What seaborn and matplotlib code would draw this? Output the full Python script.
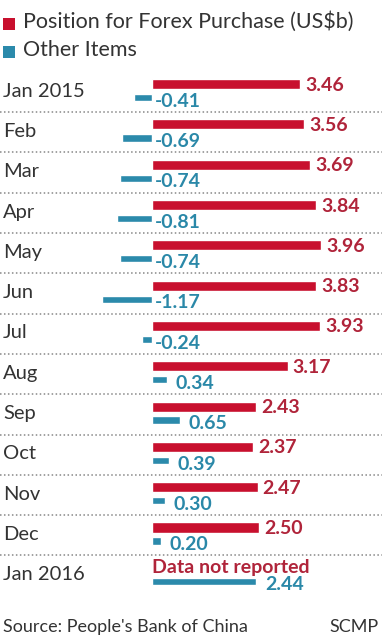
import numpy as np
import pandas as pd
import matplotlib
matplotlib.use("Agg")
import matplotlib.pyplot as plt
import seaborn as sns
from matplotlib.patches import Rectangle

months = ["Jan 2015", "Feb", "Mar", "Apr", "May", "Jun", "Jul", "Aug",
          "Sep", "Oct", "Nov", "Dec", "Jan 2016"]
forex = [3.46, 3.56, 3.69, 3.84, 3.96, 3.83, 3.93, 3.17, 2.43, 2.37, 2.47, 2.50, np.nan]
other = [-0.41, -0.69, -0.74, -0.81, -0.74, -1.17, -0.24, 0.34, 0.65, 0.39, 0.30, 0.20, 2.44]
series_names = ["Position for Forex Purchase (US$b)", "Other Items"]
missing_note = "Data not reported"
source_text = "Source: People's Bank of China"
credit_text = "SCMP"

RED = "#c8102e"
RED_TXT = "#b0243a"
BLUE = "#2b8aab"
BLUE_TXT = "#2a88a8"
GREY = "#333333"
FONT = ["Lato", "DejaVu Sans"]

sns.set_style("white")
plt.rcParams["font.family"] = FONT

W, H = 382, 640
fig = plt.figure(figsize=(W / 100, H / 100), dpi=100)
ax = fig.add_axes([0, 1 - 595 / H, 1, 524 / H])

rows = np.arange(len(months))
df = pd.DataFrame({"month": months, "row": rows, "forex": forex, "other": other})
df["y_red"] = df["row"] - 0.175
df["y_blue"] = df["row"] + 0.16

sns.barplot(data=df.dropna(subset=["forex"]), x="forex", y="y_red", orient="h",
            native_scale=True, width=0.25, color=RED, saturation=1,
            errorbar=None, ax=ax)
sns.barplot(data=df, x="other", y="y_blue", orient="h",
            native_scale=True, width=0.18, color=BLUE, saturation=1,
            errorbar=None, ax=ax)

scale = 42.8  # px per unit
ax.set_xlim(-152 / scale, (W - 152) / scale)
ax.set_ylim(len(months) - 0.5, -0.5)
ax.axis("off")

px = 1 / scale
for i, r in df.iterrows():
    ax.text(3 / W, r["row"], r["month"], transform=ax.get_yaxis_transform(),
            ha="left", va="center", fontsize=14.5, color=GREY)
    if np.isnan(r["forex"]):
        ax.text(0, r["row"] - 0.19, missing_note, ha="left", va="center",
                fontsize=14, fontweight="bold", color=RED_TXT)
    else:
        ax.text(r["forex"] + 5 * px, r["row"] - 0.15, f"{r['forex']:.2f}",
                ha="left", va="center", fontsize=14, fontweight="bold", color=RED_TXT)
    v = r["other"]
    xpos = 3 * px if v < 0 else v + 9 * px
    ax.text(xpos, r["row"] + 0.25, f"{v:.2f}", ha="left", va="center",
            fontsize=14, fontweight="bold", color=BLUE_TXT)
    if i < len(months) - 1:
        ax.axhline(r["row"] + 0.52, color="#888888", lw=1.1, ls=(0, (1, 1.6)))

for (yc, col, name) in [(24, RED, series_names[0]), (52, BLUE, series_names[1])]:
    fig.add_artist(Rectangle((3 / W, 1 - (yc + 6) / H), 12 / W, 12 / H,
                             transform=fig.transFigure, color=col, lw=0))
    fig.text(23 / W, 1 - (yc - 2) / H, name, ha="left", va="center",
             fontsize=15.5, color=GREY)

fig.text(3 / W, 1 - 627 / H, source_text, ha="left", va="center", fontsize=13, color=GREY)
fig.text(379 / W, 1 - 627 / H, credit_text, ha="right", va="center", fontsize=13, color=GREY)

fig.savefig("out.png", dpi=100)
